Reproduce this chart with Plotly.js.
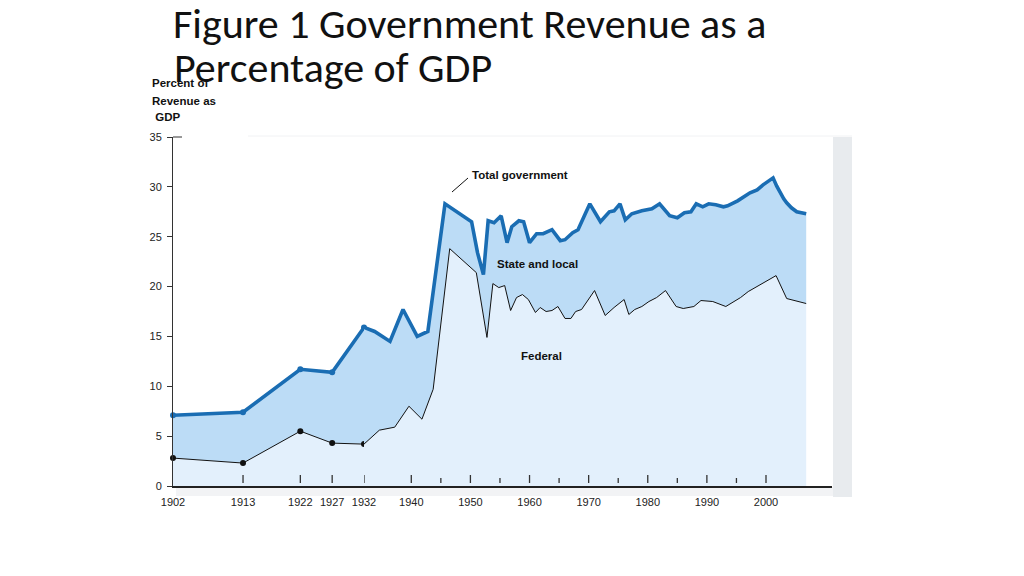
<!DOCTYPE html>
<html>
<head>
<meta charset="utf-8">
<script src="https://cdn.plot.ly/plotly-3.0.1.min.js"></script>
<style>
html,body{margin:0;padding:0;background:#ffffff;}
#chart{width:1024px;height:576px;}
</style>
</head>
<body>
<div id="chart"></div>
<script>
// ---- Data ----
const federalYears = [1902,1913,1922,1927,1932,1934.6,1937.2,1939.6,1941.8,1943.7,1946.5,1951.0,1952.8,1953.8,1954.8,1955.8,1956.8,1957.8,1958.8,1959.8,1961.0,1961.8,1962.8,1963.8,1964.8,1966.0,1967.0,1967.8,1968.8,1971.0,1972.8,1974.3,1976.0,1976.8,1977.8,1979.0,1980.2,1981.5,1983.0,1984.8,1986.0,1987.8,1989.0,1991.0,1993.2,1995.7,1997.0,2001.7,2003.5,2006.8];
const federalValues = [2.8,2.3,5.5,4.3,4.2,5.6,5.9,8.0,6.7,9.7,23.8,21.4,14.9,20.3,19.9,20.1,17.6,18.9,19.2,18.7,17.4,17.9,17.5,17.6,18.0,16.8,16.8,17.5,17.7,19.6,17.1,17.9,18.7,17.2,17.7,18.0,18.5,18.9,19.6,18.0,17.8,18.0,18.6,18.5,18.0,18.9,19.5,21.1,18.8,18.3];

const totalYears = [1902,1913,1922,1927,1932,1933.8,1936.4,1938.6,1941.0,1942.8,1945.7,1950.2,1951.2,1952.2,1953.0,1954.0,1955.2,1956.2,1957.0,1958.2,1959.0,1960.0,1961.2,1962.3,1963.8,1965.2,1966.0,1967.3,1968.2,1970.2,1972.0,1973.5,1974.3,1975.3,1976.2,1977.3,1979.0,1980.7,1982.0,1983.7,1985.0,1986.2,1987.3,1988.2,1989.3,1990.3,1991.5,1992.8,1993.5,1995.2,1997.3,1998.5,1999.5,2001.2,2001.8,2002.3,2003.0,2003.5,2004.3,2005.2,2006.0,2006.8];
const totalValues = [7.1,7.4,11.7,11.4,15.9,15.5,14.5,17.7,15.0,15.5,28.3,26.5,23.4,21.2,26.6,26.4,27.1,24.4,26.0,26.6,26.5,24.4,25.3,25.3,25.7,24.6,24.7,25.4,25.7,28.3,26.5,27.5,27.6,28.3,26.7,27.3,27.6,27.8,28.3,27.1,26.9,27.4,27.5,28.3,28.0,28.3,28.2,28.0,28.1,28.6,29.4,29.7,30.2,30.9,30.1,29.5,28.8,28.4,27.9,27.5,27.4,27.3];

const markedYears = [1902,1913,1922,1927,1932];
const labelYears = [1902,1913,1922,1927,1932,1940,1950,1960,1970,1980,1990,2000];
const majorTickYears = [1913,1922,1927,1932,1940,1950,1960,1970,1980,1990,2000];
const minorTickYears = [1945,1955,1965,1975,1985,1995];
const yTickValues = [0,5,10,15,20,25,30,35];

const titleLines = ['Figure 1 Government Revenue as a', 'Percentage of GDP'];
const yTitleLines = ['Percent of','Revenue as',' GDP'];
const seriesLabels = {total:'Total government', state:'State and local', federal:'Federal'};

// ---- Layout geometry (pixels of the 1024x576 page) ----
const L = 173, R = 832, T = 137, B = 486;
const PW = R - L, PH = B - T;
const px = p => (p - L) / PW;
const py = p => (B - p) / PH;
const splitPx = 364;            // early (pre-1932) part of the time axis is drawn wider, as in the figure
const splitYear = 1932;
const segments = [
  {xa:'x',  name:'xaxis',  range:[1902, splitYear], domain:[0, px(splitPx)]},
  {xa:'x2', name:'xaxis2', range:[splitYear, splitYear + (R - splitPx) * (2000 - splitYear) / (766 - splitPx)], domain:[px(splitPx), 1]}
];

const FONT = 'Liberation Sans, Arial, sans-serif';
const TFONT = 'Carlito, Calibri, Lato, sans-serif';
const fedFill = '#e3f0fc', slFill = '#bcdcf6', totColor = '#1a6db3';

function pick(years, values, lo, hi) {
  const x = [], y = [];
  years.forEach((yr, i) => { if (yr >= lo && yr <= hi) { x.push(yr); y.push(values[i]); } });
  return {x, y};
}

const traces = [];
segments.forEach(seg => {
  const f = pick(federalYears, federalValues, seg.range[0], seg.range[1]);
  const t = pick(totalYears, totalValues, seg.range[0], seg.range[1]);
  traces.push({x:f.x, y:f.y, xaxis:seg.xa, yaxis:'y', type:'scatter', mode:'lines',
    line:{color:'#111111', width:1}, fill:'tozeroy', fillcolor:fedFill, hoverinfo:'skip', showlegend:false});
  traces.push({x:t.x, y:t.y, xaxis:seg.xa, yaxis:'y', type:'scatter', mode:'lines',
    line:{color:totColor, width:3.6}, fill:'tonexty', fillcolor:slFill, hoverinfo:'skip', showlegend:false});
});
const fedDots = markedYears.map(yr => federalValues[federalYears.indexOf(yr)]);
const totDots = markedYears.map(yr => totalValues[totalYears.indexOf(yr)]);
traces.push({x:markedYears, y:fedDots, xaxis:'x', yaxis:'y', type:'scatter', mode:'markers',
  marker:{color:'#111111', size:6}, cliponaxis:false, hoverinfo:'skip', showlegend:false});
traces.push({x:markedYears, y:totDots, xaxis:'x', yaxis:'y', type:'scatter', mode:'markers',
  marker:{color:totColor, size:6}, cliponaxis:false, hoverinfo:'skip', showlegend:false});

const shapes = [];
// frame shadow (right band and bottom band)
shapes.push({type:'rect', xref:'paper', yref:'paper', x0:px(833), x1:px(852), y0:py(497), y1:py(137),
  fillcolor:'#e8ebee', line:{width:0}, layer:'below'});
shapes.push({type:'rect', xref:'paper', yref:'paper', x0:px(176), x1:px(833), y0:py(496), y1:py(487),
  fillcolor:'#f2f3f5', line:{width:0}, layer:'below'});
shapes.push({type:'line', xref:'paper', yref:'paper', x0:px(248), x1:px(852), y0:py(136), y1:py(136),
  line:{color:'#f1f2f4', width:1}, layer:'below'});
// floating tick marks above the time axis
function segFor(yr){ return yr < splitYear ? 'x' : 'x2'; }
majorTickYears.forEach(yr => shapes.push({type:'line', xref:segFor(yr), yref:'paper', x0:yr, x1:yr,
  y0:py(483), y1:py(475), line:{color:'#333333', width:1.3}}));
minorTickYears.forEach(yr => shapes.push({type:'line', xref:segFor(yr), yref:'paper', x0:yr, x1:yr,
  y0:py(483), y1:py(478), line:{color:'#333333', width:1.3}}));
// inward tick at the top of the value axis
shapes.push({type:'line', xref:'paper', yref:'paper', x0:0, x1:px(182), y0:1, y1:1, line:{color:'#333333', width:1}});
// leader line for "Total government"
shapes.push({type:'line', xref:'paper', yref:'paper', x0:px(452), y0:py(192), x1:px(468), y1:py(178),
  line:{color:'#111111', width:1}});

const annotations = [
  {text:'<b>'+seriesLabels.total+'</b>', x:px(470), y:py(175)},
  {text:'<b>'+seriesLabels.state+'</b>', x:px(495), y:py(264)},
  {text:'<b>'+seriesLabels.federal+'</b>', x:px(519), y:py(356)},
  {text:'<b>'+yTitleLines[0]+'</b>', x:px(150), y:py(83)},
  {text:'<b>'+yTitleLines[1]+'</b>', x:px(150), y:py(101)},
  {text:'<b>'+yTitleLines[2]+'</b>', x:px(150), y:py(117)}
].map(a => Object.assign({xref:'paper', yref:'paper', xanchor:'left', yanchor:'middle', showarrow:false,
  font:{family:FONT, size:11.5, color:'#111111'}}, a));
// second line of the slide title
annotations.push({text:titleLines[1], xref:'paper', yref:'paper', x:px(172), y:py(68), xanchor:'left', yanchor:'middle',
  showarrow:false, font:{family:TFONT, size:42, color:'#111111'}});

const layout = {
  width:1024, height:576, autosize:false,
  margin:{l:L, r:1024 - R, t:T, b:576 - B, pad:0},
  paper_bgcolor:'#ffffff', plot_bgcolor:'#ffffff',
  showlegend:false,
  title:{text:titleLines[0], x:L/1024, xref:'container', xanchor:'left', y:1 - 23/576, yref:'container', yanchor:'middle',
    font:{family:TFONT, size:42, color:'#111111'}},
  yaxis:{range:[0,35], domain:[0,1], anchor:'x', tickmode:'array', tickvals:yTickValues,
    ticktext:yTickValues.map(String), showline:true, linecolor:'#333333', linewidth:1,
    ticks:'outside', ticklen:5, tickcolor:'#333333', tickwidth:1, ticklabelstandoff:3,
    showgrid:false, zeroline:false, tickfont:{family:FONT, size:11, color:'#222222'}, fixedrange:true},
  shapes:shapes,
  annotations:annotations
};
segments.forEach(seg => {
  const vals = labelYears.filter(yr => seg.xa === 'x' ? yr < splitYear : yr >= splitYear);
  layout[seg.name] = {domain:seg.domain, range:seg.range, anchor:'y', tickmode:'array', tickvals:vals,
    ticktext:vals.map(String), ticks:'', ticklabelstandoff:5, showline:true, linecolor:'#222222', linewidth:1.5,
    showgrid:false, zeroline:false, tickfont:{family:FONT, size:11, color:'#222222'}, fixedrange:true};
});

Plotly.newPlot('chart', traces, layout, {staticPlot:true, displayModeBar:false});
</script>
</body>
</html>
